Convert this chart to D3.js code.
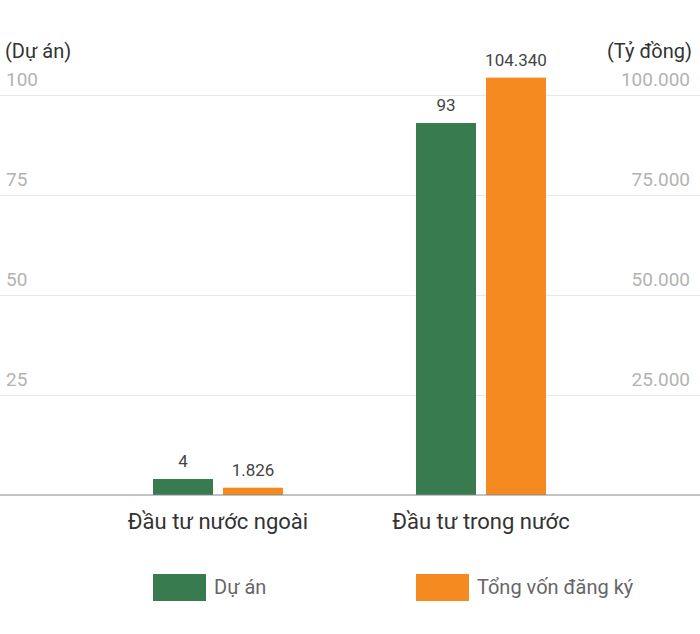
<!DOCTYPE html>
<html><head><meta charset="utf-8">
<script src="https://cdn.jsdelivr.net/npm/d3@7"></script>
<style>body{margin:0;background:#fff}svg{display:block;font-family:Roboto,"Noto Sans",sans-serif}</style>
</head><body><svg id="c" width="700" height="634"></svg>
<script>
const categories = ["Đầu tư nước ngoài", "Đầu tư trong nước"];
const projects = [4, 93];
const capital = [1826, 104340];
const leftTicks = [25, 50, 75, 100];
const rightTicks = [25000, 50000, 75000, 100000];
const seriesNames = ["Dự án", "Tổng vốn đăng ký"];
const colors = ["#377b4e", "#f58a20"];

const svg = d3.select("#c");
const yL = d3.scaleLinear().domain([0, 100]).range([495, 95]);
const yR = d3.scaleLinear().domain([0, 100000]).range([495, 95]);
const x = d3.scaleBand().domain(categories).range([86.5, 612.5]);
const vn = d3.formatLocale({decimal: ",", thousands: ".", grouping: [3], currency: ["", ""]}).format(",");

// gridlines
svg.append("g").selectAll("line").data(leftTicks).join("line")
  .attr("x1", 0).attr("x2", 700).attr("y1", d => Math.round(yL(d)) + 0.5).attr("y2", d => Math.round(yL(d)) + 0.5)
  .attr("stroke", "#e8e8e8");
// tick labels
svg.append("g").selectAll("text").data(leftTicks).join("text")
  .attr("x", 6).attr("y", d => yL(d) - 9.5).text(d => d)
  .attr("font-size", 19).attr("fill", "#b3b3b3");
svg.append("g").selectAll("text").data(rightTicks).join("text")
  .attr("x", 690).attr("y", d => yR(d) - 9.5).attr("text-anchor", "end").text(d => vn(d))
  .attr("font-size", 19).attr("fill", "#b3b3b3");
svg.append("text").attr("x", 5).attr("y", 58).text("(Dự án)").attr("font-size", 20).attr("fill", "#333");
svg.append("text").attr("x", 692).attr("y", 58).attr("text-anchor", "end").text("(Tỷ đồng)").attr("font-size", 20).attr("fill", "#333");

const bw = 60, gap = 10;
const g = svg.append("g");
categories.forEach((c, i) => {
  const cx = x(c) + x.bandwidth() / 2;
  const x0 = cx - gap / 2 - bw, x1 = cx + gap / 2;
  g.append("rect").attr("x", x0).attr("width", bw).attr("y", yL(projects[i])).attr("height", yL(0) - yL(projects[i])).attr("fill", colors[0]);
  g.append("rect").attr("x", x1).attr("width", bw).attr("y", yR(capital[i])).attr("height", yR(0) - yR(capital[i])).attr("fill", colors[1]);
  g.append("text").attr("x", x0 + bw / 2).attr("y", yL(projects[i]) - 12).attr("text-anchor", "middle").attr("font-size", 17).attr("fill", "#444").text(vn(projects[i]));
  g.append("text").attr("x", x1 + bw / 2).attr("y", yR(capital[i]) - 12).attr("text-anchor", "middle").attr("font-size", 17).attr("fill", "#444").text(vn(capital[i]));
  g.append("text").attr("x", cx).attr("y", 529).attr("text-anchor", "middle").attr("font-size", 22).attr("fill", "#333").text(c);
});
// baseline
svg.append("line").attr("x1", 0).attr("x2", 700).attr("y1", 495).attr("y2", 495).attr("stroke", "#888").attr("stroke-width", 1);

// legend
const legX = [153, 416];
seriesNames.forEach((n, i) => {
  svg.append("rect").attr("x", legX[i]).attr("y", 574).attr("width", 53).attr("height", 27).attr("fill", colors[i]);
  svg.append("text").attr("x", legX[i] + 61).attr("y", 594).attr("font-size", 20).attr("fill", "#666").text(n);
});
</script></body></html>
